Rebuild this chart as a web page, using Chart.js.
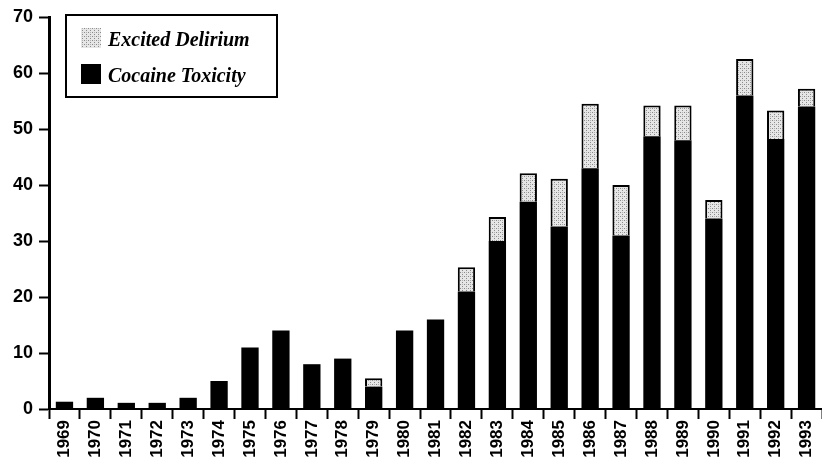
<!DOCTYPE html>
<html>
<head>
<meta charset="utf-8">
<script src="https://cdn.jsdelivr.net/npm/chart.js@4.4.1/dist/chart.umd.min.js"></script>
<style>
  html, body { margin: 0; padding: 0; background: white; overflow: hidden; }
  #wrap { width: 828px; height: 461px; position: relative; }
</style>
</head>
<body>
<div id="wrap"><canvas id="myChart"></canvas></div>
<script>
const years = ['1969','1970','1971','1972','1973','1974','1975','1976','1977','1978','1979','1980','1981',
  '1982','1983','1984','1985','1986','1987','1988','1989','1990','1991','1992','1993']
const cocaineToxicity = [1.3, 2, 1.1, 1.1, 2, 5, 11, 14, 8, 9, 4, 14, 16,
  21, 30, 37, 32.6, 43, 31, 48.7, 48, 34, 56, 48.2, 54]
const excitedDelirium = [0, 0, 0, 0, 0, 0, 0, 0, 0, 0, 1.5, 0, 0,
  4.3, 4.3, 5.1, 8.5, 11.5, 9, 5.5, 6.2, 3.3, 6.5, 5.1, 3.2]
const yTicks = [0, 10, 20, 30, 40, 50, 60, 70]

// stippled grey fill like the scanned print
function stipple() {
    const c = document.createElement('canvas')
    c.width = 4; c.height = 4
    const g = c.getContext('2d')
    g.fillStyle = '#e6e6e6'
    g.fillRect(0, 0, 4, 4)
    g.fillStyle = '#8a8a8a'
    g.fillRect(0, 0, 1, 1)
    g.fillRect(2, 2, 1, 1)
    g.fillStyle = '#b0b0b0'
    g.fillRect(2, 0, 1, 1)
    return g.createPattern(c, 'repeat')
}

const boxLegend = {
    id: 'boxLegend',
    afterDraw(chart) {
        const ctx = chart.ctx
        const a = chart.chartArea
        const x = a.left + 17, y = a.top - 2, w = 211, h = 82
        ctx.save()
        ctx.fillStyle = 'white'
        ctx.fillRect(x, y, w, h)
        ctx.strokeStyle = 'black'
        ctx.lineWidth = 2
        ctx.strokeRect(x, y, w, h)
        ctx.font = 'italic bold 20px "Liberation Serif", serif'
        ctx.textBaseline = 'alphabetic'
        const items = [chart.data.datasets[1], chart.data.datasets[0]]
        items.forEach((ds, i) => {
            const sy = y + 13 + i * 36
            ctx.fillStyle = ds.backgroundColor
            ctx.fillRect(x + 15, sy, 20, 20)
            ctx.fillStyle = 'black'
            ctx.fillText(ds.label, x + 42, sy + 18)
        })
        ctx.restore()
    }
}

const ctx = document.getElementById('myChart')
new Chart(ctx, {
    type: 'bar',
    data: {
        labels: years,
        datasets: [
            {
                label: 'Cocaine Toxicity',
                data: cocaineToxicity,
                backgroundColor: 'black',
                borderColor: 'black',
                borderWidth: 0
            },
            {
                label: 'Excited Delirium',
                data: excitedDelirium,
                backgroundColor: stipple(),
                borderColor: 'black',
                borderWidth: 2,
                borderSkipped: 'bottom'
            }
        ]
    },
    options: {
        responsive: true,
        maintainAspectRatio: false,
        animation: false,
        datasets: { bar: { categoryPercentage: 1, barPercentage: 0.56 } },
        layout: { padding: { top: 17, right: 0, left: 0, bottom: 0 } },
        plugins: {
            legend: { display: false },
            tooltip: { enabled: false }
        },
        scales: {
            x: {
                stacked: true,
                afterFit: s => { s.height = 52 },
                border: { display: true, color: 'black', width: 2 },
                grid: { offset: true, drawOnChartArea: false, drawTicks: true, tickLength: 10, tickWidth: 2, color: 'black' },
                ticks: {
                    color: 'black',
                    minRotation: 90, maxRotation: 90,
                    autoSkip: false,
                    padding: 1,
                    font: { family: '"Liberation Sans", Arial, sans-serif', size: 17, weight: 'bold' }
                }
            },
            y: {
                stacked: true,
                min: 0, max: 70,
                afterFit: s => { s.width = 49 },
                afterBuildTicks: s => { s.ticks = yTicks.map(v => ({ value: v })) },
                border: { display: true, color: 'black', width: 3 },
                grid: { drawOnChartArea: false, drawTicks: true, tickLength: 10, tickWidth: 2, color: 'black' },
                ticks: {
                    color: 'black',
                    padding: 6,
                    font: { family: '"Liberation Sans", Arial, sans-serif', size: 18, weight: 'bold' }
                }
            }
        }
    },
    plugins: [boxLegend]
})
</script>
</body>
</html>
